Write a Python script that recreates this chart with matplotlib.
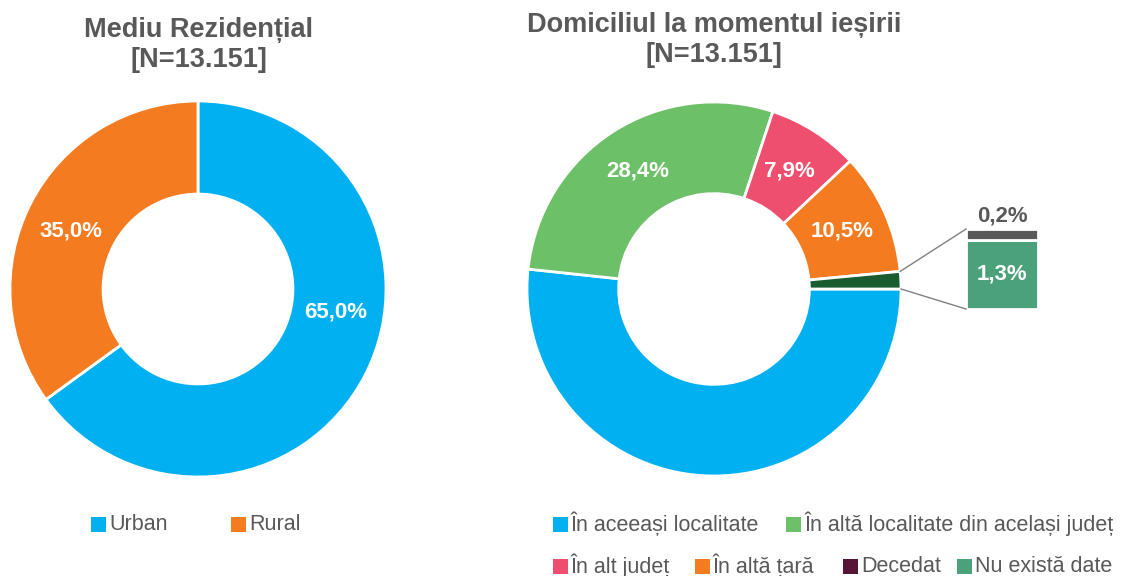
import matplotlib
matplotlib.use("Agg")
import matplotlib.pyplot as plt
from matplotlib.patches import Rectangle
import numpy as np

plt.rcParams["font.family"] = ["Liberation Sans", "DejaVu Sans"]

# data
res_labels = ["Urban", "Rural"]
res_values = [65.0, 35.0]
res_colors = ["#00B0F0", "#F47B20"]

dom_labels = ["În aceeași localitate", "În altă localitate din același județ",
              "În alt județ", "În altă țară", "Decedat", "Nu există date"]
dom_values = [51.7, 28.4, 7.9, 10.5, 0.2, 1.3]
dom_colors = ["#00B0F0", "#6CC067", "#EF4F6E", "#F47B20", "#561437", "#4BA27A"]
other_color = "#185C30"
bar_colors = ["#4BA27A", "#595959"]   # bottom: Nu există date, top: Decedat

title_left = ["Mediu Rezidențial", "[N=13.151]"]
title_right = ["Domiciliul la momentul ieșirii", "[N=13.151]"]

W, H = 1125, 576
TXT = "#595959"

fig = plt.figure(figsize=(W / 100, H / 100), dpi=100)


def px_axes(cx, cy, r, xlim, ylim):
    left = cx + xlim[0] * r
    top = cy - ylim[1] * r
    w = (xlim[1] - xlim[0]) * r
    h = (ylim[1] - ylim[0]) * r
    ax = fig.add_axes([left / W, 1 - (top + h) / H, w / W, h / H])
    return ax


def fmt(v):
    return f"{v:.1f}%".replace(".", ",")


def label_wedges(ax, wedges, values, shifts, r=0.75, skip=()):
    for i, (w, v) in enumerate(zip(wedges, values)):
        if i in skip:
            continue
        ang = np.deg2rad((w.theta1 + w.theta2) / 2 + shifts[i])
        ax.text(r * np.cos(ang), r * np.sin(ang), fmt(v), ha="center", va="center",
                color="white", fontsize=16, fontweight="bold")


# left donut
ax1 = px_axes(198, 289, 188, (-1.02, 1.02), (-1.02, 1.02))
w1, _ = ax1.pie(res_values, colors=res_colors, startangle=90, counterclock=False,
                wedgeprops=dict(width=0.495, edgecolor="white", linewidth=2))
ax1.set_xlim(-1.02, 1.02)
ax1.set_ylim(-1.02, 1.02)
label_wedges(ax1, w1, res_values, [17.5, 2.5], r=0.74)

# right donut (bar of pie)
pie_vals = dom_values[:4] + [sum(dom_values[4:])]
pie_cols = dom_colors[:4] + [other_color]
xl, yl = (-1.05, 1.85), (-1.05, 1.05)
ax2 = px_axes(714, 289, 187, xl, yl)
w2, _ = ax2.pie(pie_vals, colors=pie_cols, startangle=0, counterclock=False,
                wedgeprops=dict(width=0.49, edgecolor="white", linewidth=2))
ax2.set_xlim(*xl)
ax2.set_ylim(*yl)
label_wedges(ax2, w2, pie_vals, [0, 0, 0, 0, 0], r=0.75, skip=(0, 4))

# stacked bar for the "other" slice
bx0, bx1 = 1.348, 1.733
by0 = -0.107
scale = 0.2853
bar_vals = [dom_values[5], dom_values[4]]
y = by0
tops = []
for v, c in zip(bar_vals, bar_colors):
    ax2.add_patch(Rectangle((bx0, y), bx1 - bx0, v * scale, facecolor=c,
                            edgecolor="white", linewidth=2))
    tops.append((y, y + v * scale))
    y += v * scale
ax2.text((bx0 + bx1) / 2, (tops[0][0] + tops[0][1]) / 2, fmt(bar_vals[0]),
         ha="center", va="center", color="white", fontsize=16, fontweight="bold")
ax2.text((bx0 + bx1) / 2, tops[1][1] + 0.015, fmt(bar_vals[1]),
         ha="center", va="bottom", color=TXT, fontsize=16, fontweight="bold")

# connector lines
ow = w2[4]
for ang, yy in [(ow.theta2, tops[1][1]), (ow.theta1, tops[0][0])]:
    a = np.deg2rad(ang)
    ax2.plot([np.cos(a), bx0], [np.sin(a), yy], color="#808080", lw=1)

# titles
for i, t in enumerate(title_left):
    fig.text(199 / W, 1 - (30 + 30 * i) / H, t, ha="center", va="center",
             fontsize=19.5, fontweight="bold", color=TXT)
for i, t in enumerate(title_right):
    fig.text(714 / W, 1 - (25 + 30 * i) / H, t, ha="center", va="center",
             fontsize=19.5, fontweight="bold", color=TXT)

# legends
def legend_item(x, y, color, text):
    fig.add_artist(Rectangle((x / W, 1 - (y + 7.5) / H), 15 / W, 15 / H,
                             facecolor=color, edgecolor="none",
                             transform=fig.transFigure))
    fig.text((x + 18) / W, 1 - y / H, text, ha="left", va="center",
             fontsize=15.5, color=TXT)


left_pos = [(91, 524), (231, 524)]
right_pos = [(553, 524), (786, 524), (553, 566), (695, 566), (843, 566), (957, 566)]
for (x, y), c, t in zip(left_pos, res_colors, res_labels):
    legend_item(x, y, c, t)
for (x, y), c, t in zip(right_pos, dom_colors, dom_labels):
    legend_item(x, y, c, t)

fig.savefig("out.png", dpi=100)
